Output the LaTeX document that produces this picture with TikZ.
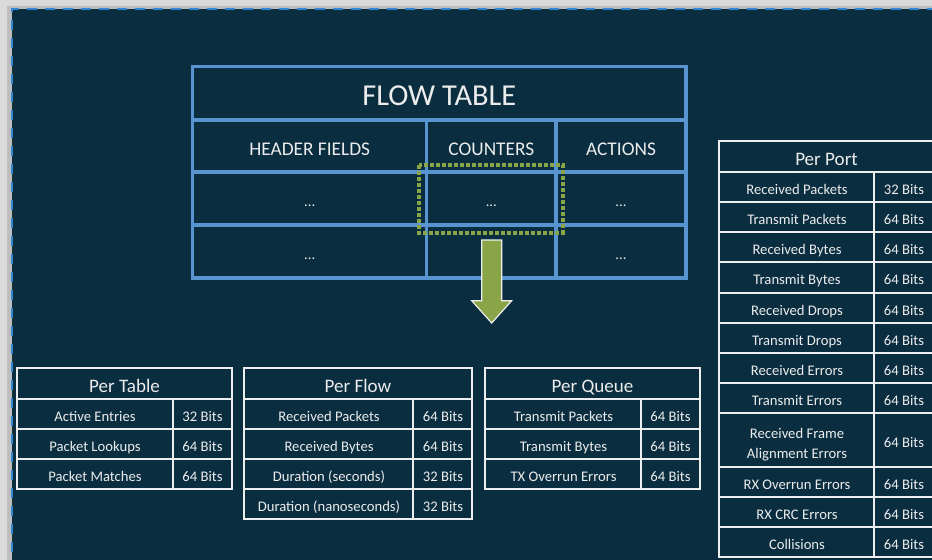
\documentclass[tikz,border=0pt]{standalone}
\usepackage{fontspec}
\setmainfont{Carlito}
\definecolor{bg}{RGB}{10,46,64}
\definecolor{framegray}{RGB}{218,218,218}
\definecolor{framedark}{RGB}{190,190,190}
\definecolor{dashblue}{RGB}{52,136,208}
\definecolor{ftblue}{RGB}{88,148,208}
\definecolor{olive}{RGB}{138,164,72}
\definecolor{txt}{RGB}{236,236,236}
\definecolor{gridw}{RGB}{238,238,238}
\begin{document}
\begin{tikzpicture}[x=0.75pt,y=-0.75pt,
  ftline/.style={draw=ftblue, line width=2.3pt},
  gridline/.style={draw=gridw, line width=1.1pt},
  ftitle/.style={text=txt, inner sep=0pt, anchor=base, font=\fontsize{22.8}{26}\selectfont},
  fhead/.style={text=txt, inner sep=0pt, anchor=base, font=\fontsize{14.5}{17}\selectfont},
  fdots/.style={text=txt, inner sep=0pt, anchor=base, font=\fontsize{11}{13}\selectfont},
  ttitle/.style={text=txt, inner sep=0pt, anchor=base, font=\fontsize{14.3}{16}\selectfont},
  cell/.style={text=txt, inner sep=0pt, anchor=base, align=center, font=\fontsize{11}{14.6}\selectfont},
  selbox/.style={draw=olive, line width=3pt, dash pattern=on 3pt off 1.5pt},
  blockarrow/.style={fill=olive, draw=gridw, line width=0.9pt, line join=miter}
]
\clip (0,0) rectangle (932,560);
% frame and background
\fill[framegray] (0,0) rectangle (932,560);
\fill[framedark] (7,6) rectangle (932,560);
\fill[bg] (11.5,9.5) rectangle (940,570);
\draw[dashblue, line width=1.5pt, dash pattern=on 7.5pt off 6pt] (11.5,570) -- (11.5,9.5) -- (940,9.5);

% ---------------- FLOW TABLE ----------------
\draw[ftline] (192.7,66.7) rectangle (686,278);
\foreach \yy in {120,172,225} \draw[ftline] (192.7,\yy) -- (686,\yy);
\foreach \xx in {426.7,556} \draw[ftline] (\xx,120) -- (\xx,278);
\node[ftitle] (ft) at (439.3,106) {FLOW TABLE};
\node[fhead] (hf) at (309.7,155) {HEADER FIELDS};
\node[fhead] (cnt) at (491.3,155) {COUNTERS};
\node[fhead] (act) at (621,155) {ACTIONS};
\node[fdots] (d11) at (309.7,206.5) {...};
\node[fdots] (d12) at (491.3,206.5) {...};
\node[fdots] (d13) at (621,206.5) {...};
\node[fdots] (d21) at (309.7,259.5) {...};
\node[fdots] (d23) at (621,259.5) {...};
\draw[selbox] (419,165) rectangle (563,232.7);
\draw[blockarrow] (481.7,240) -- (501.7,240) -- (501.7,300.7) -- (511.7,300.7) -- (491.7,323) -- (471.7,300.7) -- (481.7,300.7) -- cycle;

% ---------------- PER TABLE ----------------
\draw[gridline] (17,368) rectangle (232,489);
\foreach \yy in {399,429,459} \draw[gridline] (17,\yy) -- (232,\yy);
\draw[gridline] (173,399) -- (173,489);
\node[ttitle] (pt) at (124.5,392.5) {Per Table};
\foreach \i/\yy/\a/\b in {1/421/Active Entries/32 Bits, 2/451/Packet Lookups/64 Bits, 3/481/Packet Matches/64 Bits}{
  \node[cell] (pt-a\i) at (95,\yy) {\a};
  \node[cell] (pt-b\i) at (202.5,\yy) {\b};
}

% ---------------- PER FLOW ----------------
\draw[gridline] (244,368) rectangle (472,519);
\foreach \yy in {399,429,459,489} \draw[gridline] (244,\yy) -- (472,\yy);
\draw[gridline] (413,399) -- (413,519);
\node[ttitle] (pf) at (358,392.5) {Per Flow};
\foreach \i/\yy/\a/\b in {1/421/Received Packets/64 Bits, 2/451/Received Bytes/64 Bits, 3/481/Duration (seconds)/32 Bits, 4/511/Duration (nanoseconds)/32 Bits}{
  \node[cell] (pf-a\i) at (329,\yy) {\a};
  \node[cell] (pf-b\i) at (443,\yy) {\b};
}

% ---------------- PER QUEUE ----------------
\draw[gridline] (485,368) rectangle (700,489);
\foreach \yy in {399,429,459} \draw[gridline] (485,\yy) -- (700,\yy);
\draw[gridline] (641,399) -- (641,489);
\node[ttitle] (pq) at (592.5,392.5) {Per Queue};
\foreach \i/\yy/\a/\b in {1/421/Transmit Packets/64 Bits, 2/451/Transmit Bytes/64 Bits, 3/481/TX Overrun Errors/64 Bits}{
  \node[cell] (pq-a\i) at (563.5,\yy) {\a};
  \node[cell] (pq-b\i) at (670.5,\yy) {\b};
}

% ---------------- PER PORT ----------------
\draw[gridline] (719,141) rectangle (934,557);
\foreach \yy in {172,202,232,262,293,323,353,383,413,467,497,527} \draw[gridline] (719,\yy) -- (934,\yy);
\draw[gridline] (874,172) -- (874,557);
\node[ttitle] (pp) at (826.5,165.5) {Per Port};
\foreach \i/\yy/\a/\b in {1/194/Received Packets/32 Bits, 2/224/Transmit Packets/64 Bits, 3/254/Received Bytes/64 Bits, 4/284.5/Transmit Bytes/64 Bits, 5/315/Received Drops/64 Bits, 6/345/Transmit Drops/64 Bits, 7/375/Received Errors/64 Bits, 8/405/Transmit Errors/64 Bits, 10/489/RX Overrun Errors/64 Bits, 11/519/RX CRC Errors/64 Bits, 12/549/Collisions/64 Bits}{
  \node[cell] (pp-a\i) at (797,\yy) {\a};
  \node[cell] (pp-b\i) at (904,\yy) {\b};
}
\node[cell] (pp-a9) at (797,458) {Received Frame\\Alignment Errors};
\node[cell] (pp-b9) at (904,447) {64 Bits};
\end{tikzpicture}
\end{document}
